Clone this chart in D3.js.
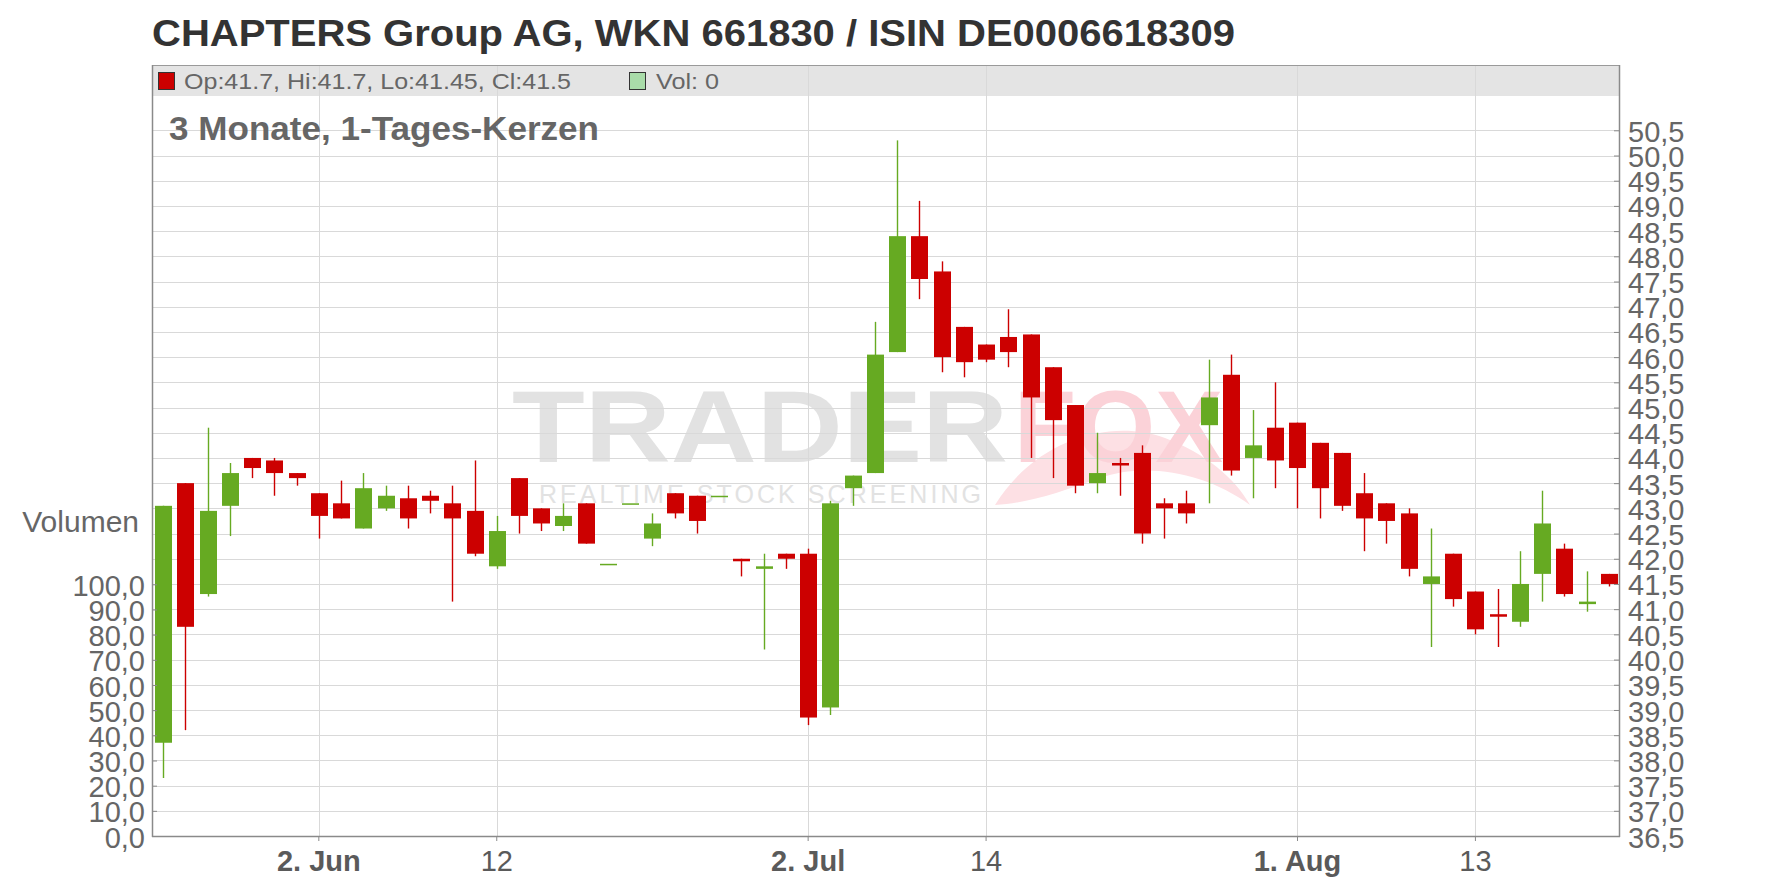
<!DOCTYPE html>
<html>
<head>
<meta charset="utf-8">
<script src="https://cdn.jsdelivr.net/npm/d3@7/dist/d3.min.js"></script>
<style>
  html, body { margin: 0; padding: 0; background: #ffffff; }
  svg { display: block; }
  text { font-family: "Liberation Sans", Arial, sans-serif; }
</style>
</head>
<body>
<svg id="chart" width="1776" height="888"></svg>
<script>
// ---------------- data ----------------
const dates = [
  "2025-05-22","2025-05-23","2025-05-26","2025-05-27","2025-05-28","2025-05-29","2025-05-30",
  "2025-06-02","2025-06-03","2025-06-04","2025-06-05","2025-06-06","2025-06-09","2025-06-10",
  "2025-06-11","2025-06-12","2025-06-13","2025-06-16","2025-06-17","2025-06-18","2025-06-19",
  "2025-06-20","2025-06-23","2025-06-24","2025-06-25","2025-06-26","2025-06-27","2025-06-30",
  "2025-07-01","2025-07-02","2025-07-03","2025-07-04","2025-07-07","2025-07-08","2025-07-09",
  "2025-07-10","2025-07-11","2025-07-14","2025-07-15","2025-07-16","2025-07-17","2025-07-18",
  "2025-07-21","2025-07-22","2025-07-23","2025-07-24","2025-07-25","2025-07-28","2025-07-29",
  "2025-07-30","2025-07-31","2025-08-01","2025-08-04","2025-08-05","2025-08-06","2025-08-07",
  "2025-08-08","2025-08-11","2025-08-12","2025-08-13","2025-08-14","2025-08-15","2025-08-18",
  "2025-08-19","2025-08-20","2025-08-21"
];
const open = [
  38.35,43.5,41.3,43.05,44.0,43.95,43.7,
  43.3,43.1,42.6,43.0,43.2,43.25,43.1,
  42.95,41.85,43.6,43.0,42.65,43.1,41.9,
  43.1,42.4,43.3,43.25,43.25,42.0,41.8,
  42.1,42.1,39.05,43.4,43.7,46.1,48.4,
  47.7,46.6,46.25,46.4,46.45,45.8,45.05,
  43.5,43.9,44.1,43.1,43.1,44.65,45.65,
  44.0,44.6,44.7,44.3,44.1,43.3,43.1,
  42.9,41.5,42.1,41.35,40.9,40.75,41.7,
  42.2,41.1,41.7
];
const high = [
  43.05,43.5,44.6,43.9,44.0,44.0,43.7,
  43.3,43.55,43.7,43.45,43.45,43.35,43.45,
  43.95,42.85,43.6,43.0,43.1,43.1,41.9,
  43.1,42.9,43.3,43.25,43.25,42.0,42.1,
  42.1,42.2,43.15,43.65,46.7,50.3,49.1,
  47.9,46.6,46.25,46.95,46.45,45.8,45.05,
  44.5,44.0,44.25,43.2,43.35,45.95,46.05,
  44.95,45.5,44.7,44.3,44.1,43.7,43.1,
  43.0,42.6,42.1,41.35,41.4,42.15,43.35,
  42.3,41.75,41.7
];
const low = [
  37.65,38.6,41.25,42.45,43.6,43.25,43.45,
  42.4,42.8,42.6,42.95,42.6,42.9,41.15,
  42.05,41.8,42.5,42.55,42.55,42.3,41.9,
  43.1,42.25,42.8,42.5,43.25,41.65,40.2,
  41.8,38.7,38.9,43.05,43.7,46.1,47.15,
  45.7,45.6,45.9,45.8,44.0,43.6,43.3,
  43.3,43.25,42.3,42.4,42.7,43.1,43.65,
  43.2,43.4,43.0,42.8,42.95,42.15,42.3,
  41.65,40.25,41.05,40.5,40.25,40.65,41.15,
  41.25,40.95,41.45
];
const close = [
  43.05,40.65,42.95,43.7,43.8,43.7,43.6,
  42.85,42.8,43.4,43.25,42.8,43.15,42.8,
  42.1,42.55,42.85,42.7,42.85,42.3,41.9,
  43.1,42.7,42.9,42.75,43.25,41.95,41.85,
  42.0,38.85,43.1,43.65,46.05,48.4,47.55,
  46.0,45.9,45.95,46.1,45.2,44.75,43.45,
  43.7,43.85,42.5,43.0,42.9,45.2,43.75,
  44.25,43.95,43.8,43.4,43.05,42.8,42.75,
  41.8,41.65,41.2,40.6,40.85,41.5,42.7,
  41.3,41.15,41.5
];
const volume = [
  0,0,0,0,0,0,0, 0,0,0,0,0,0,0, 0,0,0,0,0,0,0, 0,0,0,0,0,0,0,
  0,0,0,0,0,0,0, 0,0,0,0,0,0,0, 0,0,0,0,0,0,0, 0,0,0,0,0,0,0,
  0,0,0,0,0,0,0, 0,0,0
];
const priceTicks = [36.5,37.0,37.5,38.0,38.5,39.0,39.5,40.0,40.5,41.0,41.5,42.0,42.5,43.0,43.5,
                    44.0,44.5,45.0,45.5,46.0,46.5,47.0,47.5,48.0,48.5,49.0,49.5,50.0,50.5];
const volumeTicks = [0,10,20,30,40,50,60,70,80,90,100];
const dateTicks = ["2025-06-02","2025-06-12","2025-07-02","2025-07-14","2025-08-01","2025-08-13"];
const dateTickLabels = ["2. Jun","12","2. Jul","14","1. Aug","13"];
const dateTickBold = [true,false,true,false,true,false];

const titleText = "CHAPTERS Group AG, WKN 661830 / ISIN DE0006618309";
const subtitleText = "3 Monate, 1-Tages-Kerzen";
const legendText = "Op:41.7, Hi:41.7, Lo:41.45, Cl:41.5";
const volLegendText = "Vol: 0";

// ---------------- layout ----------------
const plot = { left: 152, right: 1620, top: 65, bottom: 836 };
const bandH = 31;
const UP = "#66aa22", DOWN = "#cc0000";
const GRID = "#d9d9d9", AXIS = "#8a8a8a", LABEL = "#666666";

const svg = d3.select("#chart");

const x = d3.scaleBand().domain(dates).range([plot.left, plot.right]).padding(0);
const y = d3.scaleLinear().domain([36.5, 50.5]).range([plot.bottom, 130.3]);
const yv = d3.scaleLinear().domain([0, 100]).range([plot.bottom, 584.3]);

const fmt1 = v => d3.format(".1f")(v).replace(".", ",");

// title
svg.append("text")
  .attr("x", 152).attr("y", 46)
  .attr("font-size", 37).attr("font-weight", "bold").attr("fill", "#333333")
  .attr("textLength", 1083).attr("lengthAdjust", "spacingAndGlyphs")
  .text(titleText);

// watermark
const wm = svg.append("g");
wm.append("text")
  .attr("x", 512).attr("y", 462)
  .attr("font-family", "'DejaVu Sans', sans-serif")
  .attr("font-size", 102).attr("font-weight", "bold").attr("fill", "#e2e2e2")
  .attr("textLength", 496).attr("lengthAdjust", "spacingAndGlyphs")
  .text("TRADER");
wm.append("path")
  .attr("d", "M995,505 C1035,440 1110,418 1165,438 C1205,453 1235,478 1250,505 C1205,472 1145,462 1100,478 C1060,492 1030,503 995,505 Z")
  .attr("fill", "#fde0e4");
wm.append("text")
  .attr("x", 1014).attr("y", 462)
  .attr("font-family", "'DejaVu Sans', sans-serif")
  .attr("font-size", 102).attr("font-weight", "bold").attr("fill", "#fbd2d8")
  .attr("textLength", 209).attr("lengthAdjust", "spacingAndGlyphs")
  .text("FOX");
wm.append("text")
  .attr("x", 539).attr("y", 503)
  .attr("font-size", 25).attr("fill", "#e2e2e2")
  .attr("textLength", 442).attr("lengthAdjust", "spacing")
  .text("REALTIME STOCK SCREENING");

// legend band
svg.append("rect")
  .attr("x", plot.left).attr("y", plot.top)
  .attr("width", plot.right - plot.left).attr("height", bandH)
  .attr("fill", "#e4e4e4");

// horizontal gridlines
svg.append("g").selectAll("line").data(priceTicks).join("line")
  .attr("x1", plot.left).attr("x2", plot.right)
  .attr("y1", d => Math.round(y(d)) + 0.5).attr("y2", d => Math.round(y(d)) + 0.5)
  .attr("stroke", GRID).attr("stroke-width", 1);

// vertical gridlines
svg.append("g").selectAll("line").data(dateTicks).join("line")
  .attr("x1", d => Math.round(x(d) + x.bandwidth() / 2) + 0.5)
  .attr("x2", d => Math.round(x(d) + x.bandwidth() / 2) + 0.5)
  .attr("y1", plot.top).attr("y2", plot.bottom)
  .attr("stroke", GRID).attr("stroke-width", 1);

// legend items
svg.append("rect").attr("x", 158.5).attr("y", 72.5).attr("width", 16).attr("height", 17)
  .attr("fill", DOWN).attr("stroke", "#333").attr("stroke-width", 1);
svg.append("text").attr("x", 184).attr("y", 89)
  .attr("font-size", 22).attr("fill", LABEL)
  .attr("textLength", 387).attr("lengthAdjust", "spacingAndGlyphs")
  .text(legendText);
svg.append("rect").attr("x", 629.5).attr("y", 72.5).attr("width", 16).attr("height", 17)
  .attr("fill", "#a9dca9").attr("stroke", "#333").attr("stroke-width", 1);
svg.append("text").attr("x", 656).attr("y", 89)
  .attr("font-size", 22).attr("fill", LABEL)
  .attr("textLength", 63).attr("lengthAdjust", "spacingAndGlyphs")
  .text(volLegendText);

// subtitle
svg.append("text").attr("x", 169).attr("y", 140)
  .attr("font-size", 33).attr("font-weight", "bold").attr("fill", LABEL)
  .attr("textLength", 430).attr("lengthAdjust", "spacingAndGlyphs")
  .text(subtitleText);

// frame lines
svg.append("line").attr("x1", plot.left).attr("x2", plot.right)
  .attr("y1", plot.top + 0.5).attr("y2", plot.top + 0.5).attr("stroke", "#9a9a9a");
svg.append("line").attr("x1", plot.left + 0.5).attr("x2", plot.left + 0.5)
  .attr("y1", plot.top).attr("y2", plot.bottom + 1).attr("stroke", AXIS).attr("stroke-width", 1.5);
svg.append("line").attr("x1", plot.right - 0.5).attr("x2", plot.right - 0.5)
  .attr("y1", plot.top).attr("y2", plot.bottom + 1).attr("stroke", AXIS).attr("stroke-width", 1.5);
svg.append("line").attr("x1", plot.left).attr("x2", plot.right)
  .attr("y1", plot.bottom + 0.5).attr("y2", plot.bottom + 0.5).attr("stroke", AXIS).attr("stroke-width", 1.5);

// volume bars (all zero in this period)
const candleW = 17;
const rows = dates.map((d, i) => ({ d, o: open[i], h: high[i], l: low[i], c: close[i], v: volume[i] }));
svg.append("g").selectAll("rect").data(rows).join("rect")
  .attr("x", r => x(r.d) + (x.bandwidth() - candleW) / 2)
  .attr("y", r => yv(r.v))
  .attr("width", candleW)
  .attr("height", r => yv(0) - yv(r.v))
  .attr("fill", "#a9dca9");

// candles
const cg = svg.append("g");
const col = r => (r.c >= r.o ? UP : DOWN);
cg.selectAll("line").data(rows).join("line")
  .attr("x1", r => Math.round(x(r.d) + x.bandwidth() / 2) + 0.5)
  .attr("x2", r => Math.round(x(r.d) + x.bandwidth() / 2) + 0.5)
  .attr("y1", r => y(r.h)).attr("y2", r => y(r.l))
  .attr("stroke", col).attr("stroke-width", 1.4);
cg.selectAll("rect").data(rows).join("rect")
  .attr("x", r => Math.round(x(r.d) + x.bandwidth() / 2) + 0.5 - candleW / 2)
  .attr("y", r => y(Math.max(r.o, r.c)))
  .attr("width", candleW)
  .attr("height", r => Math.max(1.5, Math.abs(y(r.o) - y(r.c))))
  .attr("fill", col);

// right price axis
const ax = svg.append("g").attr("transform", `translate(${plot.right},0)`)
  .call(d3.axisRight(y).tickValues(priceTicks).tickFormat(fmt1).tickSizeInner(-6).tickSizeOuter(0).tickPadding(8));
ax.select(".domain").remove();
ax.selectAll(".tick line").attr("stroke", AXIS);
ax.selectAll(".tick text").attr("font-size", 29).attr("fill", LABEL)
  .attr("font-family", "'Liberation Sans', Arial, sans-serif").attr("dy", "0.38em");

// left volume axis
const av = svg.append("g").attr("transform", `translate(${plot.left},0)`)
  .call(d3.axisLeft(yv).tickValues(volumeTicks).tickFormat(fmt1).tickSizeInner(-5).tickSizeOuter(0).tickPadding(7));
av.select(".domain").remove();
av.selectAll(".tick line").attr("stroke", AXIS);
av.selectAll(".tick text").attr("font-size", 29).attr("fill", LABEL)
  .attr("font-family", "'Liberation Sans', Arial, sans-serif").attr("dy", "0.38em");

svg.append("text").attr("x", 139).attr("y", 532)
  .attr("text-anchor", "end").attr("font-size", 30).attr("fill", LABEL)
  .text("Volumen");

// bottom date axis
const ab = svg.append("g").attr("transform", `translate(0,${plot.bottom})`)
  .call(d3.axisBottom(x).tickValues(dateTicks)
    .tickFormat(d => dateTickLabels[dateTicks.indexOf(d)])
    .tickSizeInner(5).tickSizeOuter(0).tickPadding(9));
ab.select(".domain").remove();
ab.selectAll(".tick line").attr("stroke", AXIS);
ab.selectAll(".tick text").attr("font-size", 29).attr("fill", "#5a5a5a")
  .attr("font-family", "'Liberation Sans', Arial, sans-serif")
  .attr("font-weight", d => dateTickBold[dateTicks.indexOf(d)] ? "bold" : "normal");
</script>
</body>
</html>
